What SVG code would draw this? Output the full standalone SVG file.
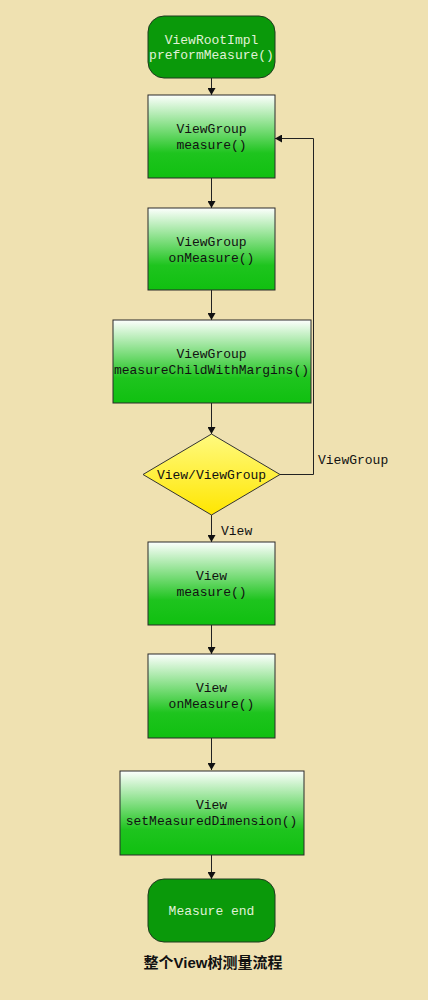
<svg xmlns="http://www.w3.org/2000/svg" width="428" height="1000" viewBox="0 0 428 1000">
<style>
.t{font-family:"Liberation Mono","DejaVu Sans Mono",monospace;font-size:13px;text-anchor:middle;fill:#111}
.tw{font-family:"Liberation Mono","DejaVu Sans Mono",monospace;font-size:13px;text-anchor:middle;fill:#e0f2d8}
.box{fill:url(#g);stroke:#2a2a2a;stroke-width:1}
.rnd{fill:#0a990a;stroke:#1f3a1f;stroke-width:1}
.c{fill:none;stroke:#222;stroke-width:1}
.lbl{font-family:"Liberation Mono","DejaVu Sans Mono",monospace;font-size:13px;fill:#111}
</style>
<defs>
<linearGradient id="g" x1="0" y1="0" x2="0" y2="1">
<stop offset="0" stop-color="#fdfffd"/>
<stop offset="0.7" stop-color="#1ec41e"/>
<stop offset="1" stop-color="#10c010"/>
</linearGradient>
<linearGradient id="y" x1="0" y1="0" x2="0" y2="1">
<stop offset="0" stop-color="#fffa80"/>
<stop offset="1" stop-color="#ffe600"/>
</linearGradient>
<marker id="a" markerWidth="8" markerHeight="8" refX="7" refY="4" orient="auto" markerUnits="userSpaceOnUse">
<path d="M0,0 L7,4 L0,8 Z" fill="#111"/>
</marker>
</defs>
<rect width="428" height="1000" fill="#efe1b1"/>
<g id="connectors">
<line class="c" x1="211.5" y1="78" x2="211.5" y2="95" marker-end="url(#a)"/>
<line class="c" x1="211.5" y1="178" x2="211.5" y2="208" marker-end="url(#a)"/>
<line class="c" x1="211.5" y1="290" x2="211.5" y2="320" marker-end="url(#a)"/>
<line class="c" x1="211.5" y1="403" x2="211.5" y2="434" marker-end="url(#a)"/>
<polyline class="c" points="280,474.5 313.5,474.5 313.5,138.5 275,138.5" marker-end="url(#a)"/>
<line class="c" x1="211.5" y1="515" x2="211.5" y2="542" marker-end="url(#a)"/>
<line class="c" x1="211.5" y1="625" x2="211.5" y2="654" marker-end="url(#a)"/>
<line class="c" x1="211.5" y1="738" x2="211.5" y2="770" marker-end="url(#a)"/>
<line class="c" x1="211.5" y1="855" x2="211.5" y2="879" marker-end="url(#a)"/>
<text class="lbl" x="318" y="464">ViewGroup</text>
<text class="lbl" x="221" y="535">View</text>
</g>
<g id="start">
<rect class="rnd" x="148" y="16" width="127" height="62" rx="16"/>
<text class="tw" x="211.5" y="44">ViewRootImpl</text>
<text class="tw" x="211.5" y="59">preformMeasure()</text>
</g>
<g id="vg-measure">
<rect class="box" x="148" y="95" width="127" height="83"/>
<text class="t" x="211.5" y="133">ViewGroup</text>
<text class="t" x="211.5" y="149">measure()</text>
</g>
<g id="vg-onmeasure">
<rect class="box" x="148" y="208" width="127" height="82"/>
<text class="t" x="211.5" y="246">ViewGroup</text>
<text class="t" x="211.5" y="262">onMeasure()</text>
</g>
<g id="vg-mcwm">
<rect class="box" x="113" y="320" width="198" height="83"/>
<text class="t" x="211.5" y="358">ViewGroup</text>
<text class="t" x="211.5" y="374">measureChildWithMargins()</text>
</g>
<g id="decision">
<polygon points="211.5,434 280,474.5 211.5,515 143,474.5" fill="url(#y)" stroke="#333" stroke-width="1"/>
<text class="t" x="211.5" y="479">View/ViewGroup</text>
</g>
<g id="v-measure">
<rect class="box" x="148" y="542" width="127" height="83"/>
<text class="t" x="211.5" y="580">View</text>
<text class="t" x="211.5" y="596">measure()</text>
</g>
<g id="v-onmeasure">
<rect class="box" x="148" y="654" width="127" height="84"/>
<text class="t" x="211.5" y="692">View</text>
<text class="t" x="211.5" y="708">onMeasure()</text>
</g>
<g id="v-smd">
<rect class="box" x="120" y="771" width="184" height="84"/>
<text class="t" x="211.5" y="809">View</text>
<text class="t" x="211.5" y="825">setMeasuredDimension()</text>
</g>
<g id="end">
<rect class="rnd" x="148" y="879" width="127" height="63" rx="16"/>
<text class="tw" x="211.5" y="915">Measure end</text>
</g>
<text x="213" y="968" style="font-family:'Liberation Sans','Noto Sans CJK SC',sans-serif;font-size:15px;font-weight:bold;text-anchor:middle;fill:#111">整个View树测量流程</text>
</svg>
